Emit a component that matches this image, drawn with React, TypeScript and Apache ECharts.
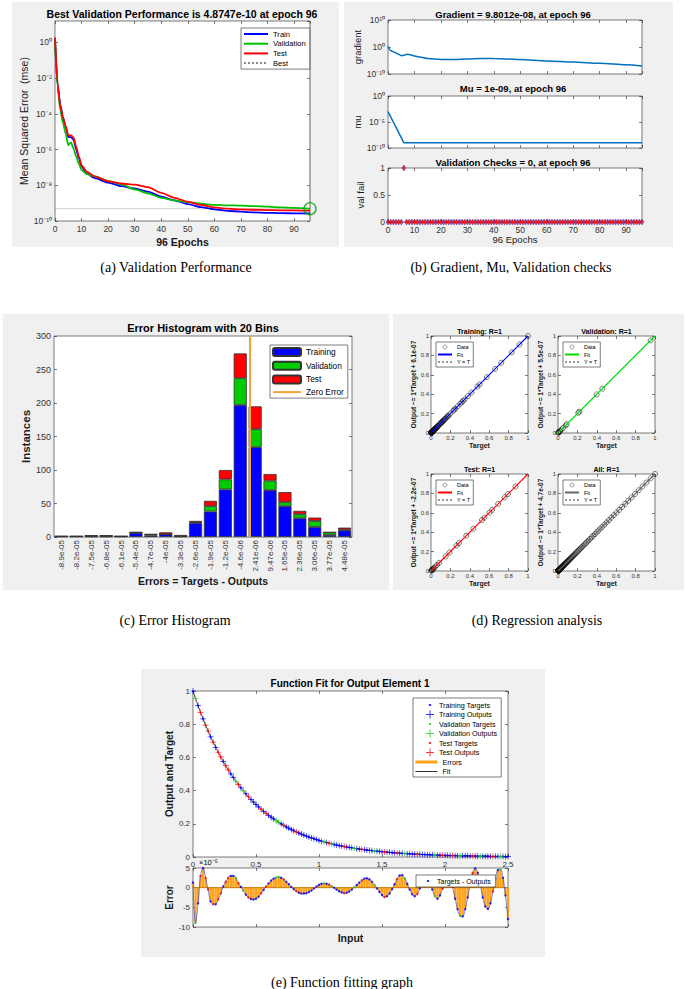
import React, { useEffect, useRef } from 'react'
import * as echarts from 'echarts'

const FONT = 'Liberation Sans, Arial, Helvetica, sans-serif'
const SERIF = 'Liberation Serif, "Times New Roman", serif'
const INK = '#262626'

// (a) performance, log10(mse)
const perfEpochs = [0, 1, 2, 3, 4, 5, 6, 7, 8, 9, 10, 12, 15, 20, 25, 30, 35, 40, 45, 50, 55, 60, 65, 70, 75, 80, 85, 90, 96]
const trainPerf = [0.2, -2.4, -3.5, -4.2, -4.7, -5.3, -5.3, -5.45, -6.0, -6.5, -6.95, -7.35, -7.6, -7.85, -8.05, -8.18, -8.35, -8.64, -8.85, -9.05, -9.22, -9.35, -9.43, -9.48, -9.52, -9.54, -9.56, -9.57, -9.58]
const valPerf = [0.1, -2.5, -3.8, -4.5, -5.1, -5.75, -5.6, -5.95, -6.4, -6.8, -7.15, -7.38, -7.5, -7.75, -7.95, -8.23, -8.45, -8.7, -8.85, -8.94, -9.03, -9.1, -9.12, -9.14, -9.17, -9.2, -9.24, -9.27, -9.31]
const testPerf = [0.28, -2.32, -3.6, -4.2, -4.7, -5.2, -5.2, -5.33, -5.86, -6.4, -6.88, -7.25, -7.5, -7.78, -7.9, -7.96, -8.1, -8.42, -8.7, -8.92, -9.1, -9.24, -9.31, -9.35, -9.37, -9.39, -9.4, -9.41, -9.42]
const bestEpoch = 96
const bestPerf = 4.8747e-10

// (b) training state, log10 for gradient and mu
const gradEpochs = [0, 1, 2, 3, 4, 5, 6, 7, 8, 10, 12, 15, 20, 25, 30, 35, 40, 45, 50, 60, 70, 80, 90, 96]
const gradLog = [0.3, -1.3, -1.8, -2.2, -2.7, -3.2, -3.1, -2.7, -2.8, -3.3, -3.7, -4.3, -4.65, -4.6, -4.4, -4.25, -4.3, -4.45, -4.65, -5.15, -5.55, -6.05, -6.55, -7.01]
const muEpochs = [0, 1, 2, 3, 4, 5, 6, 96]
const muLog = [-3, -4, -5, -6, -7, -8, -9, -9]
const valFail = [
  0, 0, 0, 0, 0, 0, 1, 0, 0, 0,
  0, 0, 0, 0, 0, 0, 0, 0, 0, 0,
  0, 0, 0, 0, 0, 0, 0, 0, 0, 0,
  0, 0, 0, 0, 0, 0, 0, 0, 0, 0,
  0, 0, 0, 0, 0, 0, 0, 0, 0, 0,
  0, 0, 0, 0, 0, 0, 0, 0, 0, 0,
  0, 0, 0, 0, 0, 0, 0, 0, 0, 0,
  0, 0, 0, 0, 0, 0, 0, 0, 0, 0,
  0, 0, 0, 0, 0, 0, 0, 0, 0, 0,
  0, 0, 0, 0, 0, 0, 0,
]

// (c) error histogram
const binLabels = ['-8.9e-05', '-8.2e-05', '-7.5e-05', '-6.8e-05', '-6.1e-05', '-5.4e-05', '-4.7e-05', '-4e-05', '-3.3e-05', '-2.6e-05',
  '-1.9e-05', '-1.2e-05', '-4.6e-06', '2.41e-06', '9.47e-06', '1.65e-05', '2.36e-05', '3.06e-05', '3.77e-05', '4.48e-05']
const histTraining = [1, 1, 1, 1, 1, 6, 2, 4, 1, 21, 38, 71, 197, 134, 70, 46, 28, 15, 3, 10]
const histValidation = [0, 0, 1, 1, 0, 1, 2, 0, 0, 1, 8, 15, 40, 27, 14, 6, 6, 9, 4, 1]
const histTest = [0, 0, 0, 0, 0, 0, 0, 3, 2, 2, 8, 14, 37, 34, 10, 15, 5, 5, 0, 3]

// (d) + (e) samples: input, target, error (x1e-5)
const fitInputs = [
  0, 0.02, 0.04, 0.06, 0.08, 0.1, 0.12, 0.14, 0.16, 0.18,
  0.2, 0.22, 0.24, 0.26, 0.28, 0.3, 0.32, 0.34, 0.36, 0.38,
  0.4, 0.42, 0.44, 0.46, 0.48, 0.5, 0.52, 0.54, 0.56, 0.58,
  0.6, 0.62, 0.64, 0.66, 0.68, 0.7, 0.72, 0.74, 0.76, 0.78,
  0.8, 0.82, 0.84, 0.86, 0.88, 0.9, 0.92, 0.94, 0.96, 0.98,
  1, 1.02, 1.04, 1.06, 1.08, 1.1, 1.12, 1.14, 1.16, 1.18,
  1.2, 1.22, 1.24, 1.26, 1.28, 1.3, 1.32, 1.34, 1.36, 1.38,
  1.4, 1.42, 1.44, 1.46, 1.48, 1.5, 1.52, 1.54, 1.56, 1.58,
  1.6, 1.62, 1.64, 1.66, 1.68, 1.7, 1.72, 1.74, 1.76, 1.78,
  1.8, 1.82, 1.84, 1.86, 1.88, 1.9, 1.92, 1.94, 1.96, 1.98,
  2, 2.02, 2.04, 2.06, 2.08, 2.1, 2.12, 2.14, 2.16, 2.18,
  2.2, 2.22, 2.24, 2.26, 2.28, 2.3, 2.32, 2.34, 2.36, 2.38,
  2.4, 2.42, 2.44, 2.46, 2.48, 2.5,
]
const fitTargets = [
  1.0, 0.955, 0.912, 0.871, 0.832, 0.794, 0.759, 0.724, 0.692, 0.661,
  0.631, 0.603, 0.575, 0.55, 0.525, 0.501, 0.479, 0.457, 0.437, 0.417,
  0.398, 0.38, 0.363, 0.347, 0.331, 0.316, 0.302, 0.288, 0.275, 0.263,
  0.251, 0.24, 0.229, 0.219, 0.209, 0.2, 0.191, 0.182, 0.174, 0.166,
  0.158, 0.151, 0.145, 0.138, 0.132, 0.126, 0.12, 0.115, 0.11, 0.105,
  0.1, 0.095, 0.091, 0.087, 0.083, 0.079, 0.076, 0.072, 0.069, 0.066,
  0.063, 0.06, 0.058, 0.055, 0.052, 0.05, 0.048, 0.046, 0.044, 0.042,
  0.04, 0.038, 0.036, 0.035, 0.033, 0.032, 0.03, 0.029, 0.028, 0.026,
  0.025, 0.024, 0.023, 0.022, 0.021, 0.02, 0.019, 0.018, 0.017, 0.017,
  0.016, 0.015, 0.014, 0.014, 0.013, 0.013, 0.012, 0.011, 0.011, 0.01,
  0.01, 0.01, 0.009, 0.009, 0.008, 0.008, 0.008, 0.007, 0.007, 0.007,
  0.006, 0.006, 0.006, 0.005, 0.005, 0.005, 0.005, 0.005, 0.004, 0.004,
  0.004, 0.004, 0.004, 0.003, 0.003, 0.003,
]
const fitErrors = [
  1.3, -9.0, -4.0, 3.0, 5.0, 2.5, -0.5, -3.5, -4.2, -4.2,
  -3.0, -1.5, 0.3, 1.5, 2.5, 3.0, 3.0, 2.5, 1.2, 0.2,
  -0.8, -1.8, -2.5, -2.9, -3.0, -2.8, -2.3, -1.5, -0.6, 0.3,
  1.1, 1.8, 2.3, 2.6, 2.7, 2.5, 2.1, 1.5, 0.9, 0.2,
  -0.4, -0.9, -1.3, -1.5, -1.5, -1.4, -1.1, -0.7, -0.2, 0.3,
  0.7, 1.0, 1.1, 1.0, 0.8, 0.4, 0.0, -0.5, -0.9, -1.2,
  -1.4, -1.3, -1.0, -0.5, 0.1, 0.7, 1.3, 1.9, 2.3, 2.4,
  2.1, 1.5, 0.7, -0.2, -1.1, -1.9, -2.4, -2.2, -1.5, -0.4,
  0.9, 2.2, 3.1, 3.2, 2.4, 1.0, -0.5, -1.7, -2.2, -1.6,
  -0.2, 1.5, 2.9, 3.0, 1.5, -0.5, -2.2, -2.8, -2.0, -0.3,
  1.5, 2.5, 2.2, 0.2, -2.8, -5.5, -7.2, -7.3, -5.5, -2.5,
  0.8, 3.8, 4.9, 3.8, 0.8, -2.5, -4.8, -5.4, -4.0, -1.0,
  2.3, 4.5, 4.6, 2.5, -2.0, -8.0,
]
const valIdx = [1, 17, 20, 33, 34, 52, 55, 64, 72, 84, 96, 106, 114, 122]
const testIdx = [3, 5, 6, 8, 10, 11, 13, 14, 18, 22, 27, 29, 36, 41, 54, 60, 67, 76, 81, 89, 99, 103, 111, 119]
const regTitles = ['Training: R=1', 'Validation: R=1', 'Test: R=1', 'All: R=1']
const regOffsets = ['6.1e-07', '5.5e-07', '-2.2e-07', '4.7e-07']

const SUP: Record<string, string> = { '0': '⁰', '1': '¹', '2': '²', '3': '³', '4': '⁴', '5': '⁵', '6': '⁶', '7': '⁷', '8': '⁸', '9': '⁹', '-': '⁻' }
const pow10 = (v: number) => '10' + String(v).split('').map((c) => SUP[c] ?? c).join('')
const sp = (n: number) => ' '.repeat(n) // keeps same-named legend entries apart

const PLUS = 'path://M4.4,0h1.2v4.4h4.4v1.2h-4.4v4.4h-1.2v-4.4h-4.4v-1.2h4.4z'
const DOT = 'path://M0,0h0.05v0.05h-0.05z M3.6,3.6h2.8v2.8h-2.8z M9.95,9.95h0.05v0.05h-0.05z'

// legend entry for a line series: hide the marker ECharts puts in the middle
const lineItem = (name: string, width?: number) => ({
  name, itemStyle: { opacity: 0 }, ...(width ? { lineStyle: { width } } : {}),
})

const box = (left: number, top: number, width: number, height: number) => ({
  left, top, width, height, show: true, backgroundColor: '#fff', borderColor: INK, borderWidth: 0.6,
})

const vAxis = (gridIndex: number, min: number, max: number, interval: number, label: any = {}, extra: any = {}) => ({
  type: 'value', gridIndex, min, max, interval,
  splitLine: { show: false },
  axisLine: { show: false, onZero: false },
  axisTick: { inside: true, length: 3, lineStyle: { color: INK, width: 0.6 } },
  axisLabel: { fontFamily: FONT, fontSize: 8.5, color: '#333', margin: 3, ...label },
  ...extra,
})

// MATLAB draws ticks on all four sides: a label-less copy on the opposite side
const mirror = (ax: any, position: string) => ({
  ...ax, position, name: '', axisLabel: { show: false }, axisTick: { ...ax.axisTick, show: true },
})

const axName = (name: string, nameGap: number, fontSize: number, bold = true) => ({
  name, nameLocation: 'middle', nameGap,
  nameTextStyle: { fontFamily: FONT, fontSize, fontWeight: bold ? 'bold' : 'normal', color: '#1a1a1a' },
})

const legendBox = (left: number, top: number, data: any[], o: any) => ({
  show: true, orient: 'vertical', left, top, data, selectedMode: false,
  formatter: (n: string) => n.trim(),
  backgroundColor: o.bare ? 'transparent' : '#fff',
  borderColor: INK, borderWidth: o.bare ? 0 : 0.6, borderRadius: 0,
  itemWidth: o.itemWidth, itemHeight: o.itemHeight, itemGap: o.itemGap, padding: o.padding,
  textStyle: { fontFamily: FONT, color: '#000', fontSize: o.fontSize, lineHeight: o.lineHeight },
  z: o.z ?? 5,
})

const text = (x: number, y: number, t: string, fontSize: number, bold = true, align = 'center') => ({
  type: 'text', x, y, z: 10, silent: true,
  style: { text: t, fontFamily: FONT, fontSize, fontWeight: bold ? 'bold' : 'normal', fill: '#000', align, verticalAlign: 'middle' },
})
const caption = (x: number, y: number, t: string) => ({
  type: 'text', x, y, z: 10, silent: true,
  style: { text: t, fontFamily: SERIF, fontSize: 14, fill: '#000', align: 'center', verticalAlign: 'middle' },
})
const panel = (x: number, y: number, width: number, height: number) => ({
  type: 'rect', z: -10, silent: true, shape: { x, y, width, height }, style: { fill: '#f0f0f0' },
})

function buildOption() {
  const all = fitInputs.map((_, i) => i)
  const trainIdx = all.filter((i) => !valIdx.includes(i) && !testIdx.includes(i))
  const out = (i: number) => fitTargets[i] + fitErrors[i] * 1e-5
  const lb = Math.log10(bestPerf)

  const centers = binLabels.map(Number)
  const k = centers.findIndex((c, i) => c < 0 && centers[i + 1] >= 0)
  const zeroPos = k + (0 - centers[k]) / (centers[k + 1] - centers[k])

  const regGrids = [[431, 336], [558, 336], [431, 474], [558, 474]]
  const regSets = [trainIdx, valIdx, testIdx, all]
  const regColors = ['#0000ff', '#00dd00', '#ff0000', '#666666']
  const splitSets = [trainIdx, valIdx, testIdx]
  const splitNames = ['Training', 'Validation', 'Test']
  const splitColors = ['#0000ff', '#22cc22', '#ff0000']
  const splitOf = (i: number) => (valIdx.includes(i) ? 1 : testIdx.includes(i) ? 2 : 0)

  const grid = [
    box(55, 21, 255, 200),
    box(388, 20, 254, 54),
    box(388, 96, 254, 52),
    box(388, 168, 254, 54),
    box(54, 336, 298, 201),
    ...regGrids.map(([l, t]) => box(l, t, 97, 97)),
    box(193, 691, 315, 166),
    box(193, 868, 315, 59),
  ]

  const xAxis: any[] = [
    vAxis(0, 0, 96, 10, { showMaxLabel: false }, axName('96 Epochs', 15, 10.5)),
    vAxis(1, 0, 96, 10, { show: false }),
    vAxis(2, 0, 96, 10, { show: false }),
    vAxis(3, 0, 96, 10, { showMaxLabel: false }, axName('96 Epochs', 12, 9.5, false)),
    {
      type: 'category', gridIndex: 4, data: binLabels,
      axisLine: { show: false, onZero: false },
      axisTick: { alignWithLabel: true, inside: true, length: 3, lineStyle: { color: INK, width: 0.6 } },
      axisLabel: { rotate: 90, interval: 0, fontFamily: FONT, fontSize: 8, color: '#333', margin: 3 },
      ...axName('Errors = Targets - Outputs', 38, 10.5),
    },
    ...regGrids.map((_, i) => vAxis(5 + i, 0, 1, 0.2, { fontSize: 6, margin: 2 }, axName('Target', 9, 7))),
    vAxis(9, 0, 2.5, 0.5, { fontSize: 8 }),
    vAxis(10, 0, 2.5, 0.5, { show: false }, axName('Input', 5, 10.5)),
    { type: 'value', gridIndex: 4, min: -0.5, max: 19.5, show: false, position: 'top' },
  ]

  const yAxis: any[] = [
    vAxis(0, -10, 1.2, 2, { formatter: pow10, showMaxLabel: false }, axName('Mean Squared Error  (mse)', 24, 10.5, false)),
    vAxis(1, -10, 10, 10, { formatter: pow10 }, axName('gradient', 23, 9.5, false)),
    vAxis(2, -10, 0, 5, { formatter: pow10 }, axName('mu', 23, 9.5, false)),
    vAxis(3, 0, 1, 0.5, {}, axName('val fail', 23, 9.5, false)),
    vAxis(4, 0, 300, 50, { fontSize: 9 }, axName('Instances', 22, 11.5)),
    ...regGrids.map((_, i) => vAxis(5 + i, 0, 1, 0.2, { fontSize: 6, margin: 2 }, axName(`Output ~= 1*Target + ${regOffsets[i]}`, 12, 6.5))),
    vAxis(9, 0, 1, 0.2, { fontSize: 8 }, axName('Output and Target', 17, 10)),
    vAxis(10, -10, 5, 5, { fontSize: 8 }, axName('Error', 17, 10)),
  ]

  // tick-only copies on top / right (grid 4 keeps its top slot for the zero-error axis)
  const gridCount = grid.length
  for (let g = 0; g < gridCount; g++) {
    if (g !== 4) xAxis.push(mirror(xAxis[g], 'top'))
    yAxis.push(mirror(yAxis[g], 'right'))
  }

  const perfLine = (name: string, ys: number[], color: string) => ({
    type: 'line', name, xAxisIndex: 0, yAxisIndex: 0, symbol: 'none', smooth: 0.25, smoothMonotone: 'x',
    data: perfEpochs.map((e, i) => [e, ys[i]]),
    lineStyle: { color, width: 1.8 }, itemStyle: { color },
  })

  const series: any[] = [
    // (a)
    { type: 'line', name: 'Best', xAxisIndex: 0, yAxisIndex: 0, symbol: 'none', data: [[0, lb], [bestEpoch, lb]], lineStyle: { color: '#888', width: 0.8, type: 'dotted' }, itemStyle: { color: '#888' } },
    { type: 'line', name: 'Best', xAxisIndex: 0, yAxisIndex: 0, symbol: 'none', data: [[bestEpoch, -10], [bestEpoch, 1.2]], lineStyle: { color: '#888', width: 0.8, type: 'dotted' }, itemStyle: { color: '#888' } },
    perfLine('Train', trainPerf, '#0000ff'),
    perfLine('Validation', valPerf, '#00c000'),
    perfLine('Test', testPerf, '#ff0000'),
    { type: 'scatter', xAxisIndex: 0, yAxisIndex: 0, data: [[bestEpoch, lb]], symbol: 'circle', symbolSize: 12, itemStyle: { color: 'rgba(0,0,0,0)', borderColor: '#00a000', borderWidth: 1.4 }, z: 4 },
    // (b)
    { type: 'line', xAxisIndex: 1, yAxisIndex: 1, symbol: 'none', smooth: 0.3, smoothMonotone: 'x', data: gradEpochs.map((e, i) => [e, gradLog[i]]), lineStyle: { color: '#0072BD', width: 1.5 } },
    { type: 'line', xAxisIndex: 2, yAxisIndex: 2, symbol: 'none', data: muEpochs.map((e, i) => [e, muLog[i]]), lineStyle: { color: '#0072BD', width: 1.5 } },
    { type: 'scatter', xAxisIndex: 3, yAxisIndex: 3, symbol: 'diamond', symbolSize: [4, 6], data: valFail.map((v, i) => [i, v]), itemStyle: { color: '#ff0000', borderColor: '#2233cc', borderWidth: 0.5 } },
    // (c)
    ...[histTraining, histValidation, histTest].map((d, i) => ({
      type: 'bar', name: ['Training', 'Validation' + sp(1), 'Test' + sp(1)][i], xAxisIndex: 4, yAxisIndex: 4, stack: 'hist',
      barCategoryGap: '12%', data: d,
      itemStyle: { color: ['#0000ff', '#00cc00', '#ff0000'][i], borderColor: '#333', borderWidth: 0.8 },
    })),
    { type: 'line', name: 'Zero Error', xAxisIndex: 11, yAxisIndex: 4, symbol: 'none', data: [[zeroPos, 0], [zeroPos, 300]], lineStyle: { color: '#f7a13a', width: 2 }, itemStyle: { color: '#f7a13a' }, z: 3 },
  ]

  // (d)
  regSets.forEach((set, r) => {
    series.push(
      { type: 'line', name: 'Y = T' + sp(r), xAxisIndex: 5 + r, yAxisIndex: 5 + r, symbol: 'none', data: [[0, 0], [1, 1]], lineStyle: { color: '#999', width: 0.7, type: 'dotted' }, itemStyle: { color: '#999' } },
      { type: 'line', name: 'Fit' + sp(r), xAxisIndex: 5 + r, yAxisIndex: 5 + r, symbol: 'none', data: [[0, 0], [1, 1]], lineStyle: { color: regColors[r], width: 1.1 }, itemStyle: { color: regColors[r] } },
      {
        type: 'scatter', name: 'Data' + sp(r), xAxisIndex: 5 + r, yAxisIndex: 5 + r, symbol: 'circle', symbolSize: 5,
        data: set.map((i) => [fitTargets[i], out(i)]),
        itemStyle: { color: 'rgba(0,0,0,0)', borderColor: '#111', borderWidth: 0.7 },
      },
    )
  })

  // (e) upper
  series.push({
    type: 'line', name: 'Fit' + sp(4), xAxisIndex: 9, yAxisIndex: 9, symbol: 'none',
    data: all.map((i) => [fitInputs[i], out(i)]), lineStyle: { color: '#000', width: 0.7 }, itemStyle: { color: '#000' }, z: 1,
  })
  splitSets.forEach((set, s) => {
    series.push(
      {
        type: 'scatter', name: splitNames[s] + ' Outputs', xAxisIndex: 9, yAxisIndex: 9, symbol: PLUS, symbolSize: 6,
        data: set.map((i) => [fitInputs[i], out(i)]), itemStyle: { color: splitColors[s] },
      },
      {
        type: 'scatter', name: splitNames[s] + ' Targets', xAxisIndex: 9, yAxisIndex: 9, symbol: 'circle', symbolSize: 2.2,
        data: set.map((i) => [fitInputs[i], fitTargets[i]]), itemStyle: { color: splitColors[s] },
      },
    )
  })

  // (e) lower
  series.push(
    {
      type: 'bar', name: 'Errors', xAxisIndex: 10, yAxisIndex: 10, barWidth: 2.4,
      data: all.map((i) => [fitInputs[i], fitErrors[i]]), itemStyle: { color: '#ffa31a' },
    },
    { type: 'line', xAxisIndex: 10, yAxisIndex: 10, symbol: 'none', data: [[0, 0], [2.5, 0]], lineStyle: { color: '#c77800', width: 1 }, z: 3 },
    {
      type: 'line', xAxisIndex: 10, yAxisIndex: 10, symbol: 'none', smooth: 0.4,
      data: all.map((i) => [fitInputs[i], fitErrors[i]]), lineStyle: { color: '#2a3fd8', width: 0.8, opacity: 0.8 }, z: 3,
    },
    {
      type: 'scatter', name: 'Targets - Outputs', xAxisIndex: 10, yAxisIndex: 10, symbol: 'circle', symbolSize: 2.4,
      data: all.map((i) => ({ value: [fitInputs[i], fitErrors[i]], itemStyle: { color: splitColors[splitOf(i)] } })),
      itemStyle: { color: '#0000ff' }, z: 4,
    },
  )

  const legend: any[] = [
    legendBox(241, 28, ['Train', 'Validation', 'Test', 'Best'].map((n) => lineItem(n)), { itemWidth: 24, itemHeight: 6, itemGap: 1.7, padding: [2, 4, 2, 2], fontSize: 7.6, lineHeight: 8 }),
    legendBox(270, 345, ['Training', 'Validation' + sp(1), 'Test' + sp(1), lineItem('Zero Error')], { itemWidth: 28, itemHeight: 8, itemGap: 3.7, padding: [2, 4, 2, 2], fontSize: 8.3, lineHeight: 8 }),
    ...regGrids.map(([l, t], r) =>
      legendBox(l + 5, t + 6, [
        { name: 'Data' + sp(r), itemStyle: { color: 'rgba(0,0,0,0)', borderColor: '#333', borderWidth: 0.6 } },
        lineItem('Fit' + sp(r)), lineItem('Y = T' + sp(r)),
      ], { itemWidth: 14, itemHeight: 4, itemGap: 1.5, padding: [2, 3, 2, 1], fontSize: 5.5, lineHeight: 4.5 }),
    ),
    legendBox(413, 698, [
      { name: 'Training Targets', icon: DOT }, { name: 'Training Outputs', icon: PLUS },
      { name: 'Validation Targets', icon: DOT }, { name: 'Validation Outputs', icon: PLUS },
      { name: 'Test Targets', icon: DOT }, { name: 'Test Outputs', icon: PLUS },
    ], { itemWidth: 8, itemHeight: 8, itemGap: 1.5, padding: [3, 4, 20.5, 13], fontSize: 7.2, lineHeight: 8 }),
    legendBox(415, 758, [{ name: 'Errors', icon: 'rect' }, lineItem('Fit' + sp(4), 0.8)], { bare: true, z: 6, itemWidth: 22, itemHeight: 3, itemGap: 1.5, padding: 0, fontSize: 7.2, lineHeight: 8 }),
    legendBox(416, 875, [{ name: 'Targets - Outputs', icon: DOT }], { itemWidth: 8, itemHeight: 8, itemGap: 0, padding: [2, 5, 2, 8], fontSize: 7, lineHeight: 8 }),
  ]

  const graphic = [
    panel(12, 2, 327, 245),
    panel(344, 2, 329, 245),
    panel(3, 314, 386, 276),
    panel(393, 314, 291, 276),
    panel(141, 669, 404, 288),
    text(182, 14, 'Best Validation Performance is 4.8747e-10 at epoch 96', 10.5),
    text(513, 14, 'Gradient = 9.8012e-08, at epoch 96', 9.5),
    text(513, 88, 'Mu = 1e-09, at epoch 96', 9.5),
    text(513, 162, 'Validation Checks = 0, at epoch 96', 9.5),
    text(203, 327.5, 'Error Histogram with 20 Bins', 11),
    ...regGrids.map(([l, t], r) => text(l + 48.5, t - 4.5, regTitles[r], 7)),
    text(350, 683, 'Function Fit for Output Element 1', 10),
    text(199, 862, '×10⁻⁵', 7.5, false, 'left'),
    caption(176, 267, '(a) Validation Performance'),
    caption(511, 267, '(b) Gradient, Mu, Validation checks'),
    caption(175, 620, '(c) Error Histogram'),
    caption(537, 620, '(d) Regression analysis'),
    caption(342, 982, '(e) Function fitting graph'),
  ]

  return { animation: false, textStyle: { fontFamily: FONT }, graphic: { elements: graphic }, grid, xAxis, yAxis, legend, series }
}

const App: React.FC = () => {
  const chartRef = useRef<HTMLDivElement | null>(null)

  useEffect(() => {
    if (!chartRef.current) return
    const chart = echarts.init(chartRef.current, undefined, { renderer: 'svg' })
    // @ts-ignore
    chart.setOption(buildOption())
    return () => {
      chart.dispose()
    }
  }, [])

  return <div ref={chartRef} style={{ position: 'absolute', left: 0, top: 0, width: 685, height: 989, background: '#fff' }} />
}

export default App
